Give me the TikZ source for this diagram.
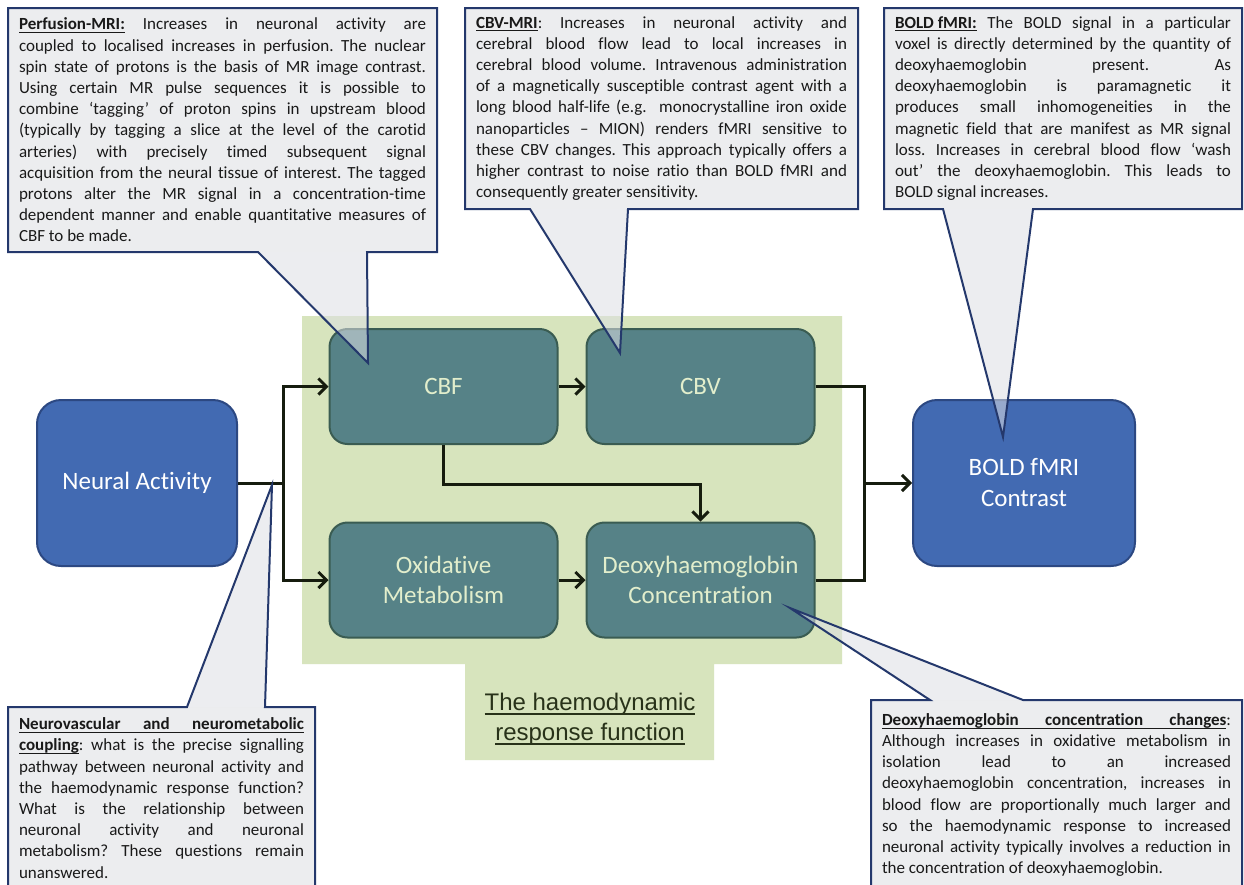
\documentclass[tikz,border=0pt]{standalone}
\usepackage{fontspec}
\setmainfont{Carlito}[Ligatures=CommonOff]
\newfontfamily\arialfont{Liberation Sans}
\usetikzlibrary{arrows.meta}

\frenchspacing
\hyphenpenalty=10000
\exhyphenpenalty=10000
\tolerance=9999

\newcommand\ulword[1]{\leavevmode\setbox0\hbox{#1}\rlap{\rule[-0.19em]{\wd0}{0.055em}}\box0}
\newcommand\ulgap{\leaders\hrule height -0.135em depth 0.19em\hskip 0.23em plus 0.6em minus 0.07em\relax}

\definecolor{nablue}{RGB}{66,106,178}
\definecolor{naline}{RGB}{44,72,130}
\definecolor{hrfteal}{RGB}{86,130,135}
\definecolor{hrfline}{RGB}{58,92,82}
\definecolor{hrfgreen}{RGB}{215,228,189}
\definecolor{hrftext}{RGB}{226,238,204}
\definecolor{hrfdark}{RGB}{40,50,25}
\definecolor{notebg}{RGB}{236,237,239}
\definecolor{notetip}{RGB}{222,224,228}
\definecolor{noteline}{RGB}{36,56,108}
\definecolor{linkcol}{RGB}{22,28,14}

\tikzset{
  bluebox/.style={draw=naline,fill=nablue,line width=2pt,rounded corners=24pt,text=white,
    font=\fontsize{25}{31}\selectfont,align=center,minimum height=166pt},
  tealbox/.style={draw=hrfline,fill=hrfteal,line width=2pt,rounded corners=18pt,text=hrftext,
    font=\fontsize{25}{30}\selectfont,align=center,minimum width=228pt,minimum height=115pt},
  note/.style={anchor=north west,fill=notebg,inner xsep=11pt,inner ysep=0pt,outer sep=0pt,
    align=justify,text=black!90,font=\fontsize{17}{21.2}\selectfont},
  tipfill/.style={fill=notetip,fill opacity=0.55},
  balloon/.style={draw=noteline,line width=2pt},
  link/.style={draw=linkcol,line width=3pt},
  arr/.style={link,-{Straight Barb[length=8pt,width=16pt]}},
}

\begin{document}
\begin{tikzpicture}[x=1pt,y=-1pt]
  \useasboundingbox[fill=white] (0,0) rectangle (1244,884);
  \fill[hrfgreen] (302,316) -- (842,316) -- (842,664) -- (714,664) -- (714,760)
    -- (465,760) -- (465,664) -- (302,664) -- cycle;
  \node[font=\arialfont\fontsize{24}{30}\selectfont,text=hrfdark,align=center] (hrf) at (590,719)
    {\ulword{The haemodynamic}\\\ulword{response function}};

  \node[bluebox,minimum width=200pt] (na) at (137,483) {Neural Activity};
  \node[tealbox] (cbf) at (443.5,386.5) {CBF};
  \node[tealbox] (cbv) at (700.5,386.5) {CBV};
  \node[tealbox] (oxm) at (443.5,580) {Oxidative\\Metabolism};
  \node[tealbox] (dhb) at (700.5,580) {Deoxyhaemoglobin\\Concentration};
  \node[bluebox,minimum width=222pt] (bold) at (1024,483) {BOLD fMRI\\Contrast};

  \coordinate (split) at (283,483);
  \coordinate (merge) at (864,483);
  \draw[link] (na) -- (split);
  \draw[arr] (split) |- (cbf);
  \draw[arr] (split) |- (oxm);
  \draw[arr] (cbf) -- (cbv);
  \draw[arr] (oxm) -- (dhb);
  \draw[arr] (cbf.south) -- ++(0,39) -| (dhb.north);
  \draw[link] (cbv) -| (merge);
  \draw[link] (dhb) -| (merge);
  \draw[arr] (merge) -- (bold);

  \node[note,text width=407pt,minimum height=244pt] (perf) at (8,8) {\textbf{\ulword{Perfusion-MRI:}}
    Increases in neuronal activity are\linebreak coupled to localised increases in perfusion. The
    nuclear\linebreak spin state of protons is the basis of MR image contrast.\linebreak Using certain
    MR pulse sequences it is possible to\linebreak combine ‘tagging’ of proton spins in upstream
    blood\linebreak (typically by tagging a slice at the level of the carotid\linebreak arteries) with
    precisely timed subsequent signal\linebreak acquisition from the neural tissue of interest. The
    tagged\linebreak protons alter the MR signal in a concentration-time\linebreak dependent manner
    and enable quantitative measures of\linebreak CBF to be made.};
  \coordinate (perfL) at (258,252);
  \coordinate (perfR) at (367,252);
  \coordinate (perftip) at (368,363);
  \fill[tipfill] (perfL) -- (perftip) -- (perfR) -- cycle;
  \draw[balloon] (perf.north west) -- (perf.north east) -- (perf.south east) -- (perfR)
    -- (perftip) -- (perfL) -- (perf.south west) -- cycle;

  \node[note,text width=371pt,minimum height=201pt] (cbvm) at (465,8) {\textbf{\ulword{CBV-MRI}}:
    Increases in neuronal activity and\linebreak cerebral blood flow lead to local increases
    in\linebreak cerebral blood volume. Intravenous administration\linebreak of a magnetically
    susceptible contrast agent with a\linebreak long blood half-life (e.g.\ \ monocrystalline iron
    oxide\linebreak nanoparticles – MION) renders fMRI sensitive to\linebreak these CBV changes. This
    approach typically offers a\linebreak higher contrast to noise ratio than BOLD fMRI
    and\linebreak consequently greater sensitivity.};
  \coordinate (cbvmL) at (530,209);
  \coordinate (cbvmR) at (628,209);
  \coordinate (cbvmtip) at (620,353);
  \fill[tipfill] (cbvmL) -- (cbvmtip) -- (cbvmR) -- cycle;
  \draw[balloon] (cbvm.north west) -- (cbvm.north east) -- (cbvm.south east) -- (cbvmR)
    -- (cbvmtip) -- (cbvmL) -- (cbvm.south west) -- cycle;

  \node[note,text width=336pt,minimum height=201pt] (boldm) at (884,8) {\textbf{\ulword{BOLD fMRI:}}
    The BOLD signal in a particular\linebreak voxel is directly determined by the quantity
    of\linebreak deoxyhaemoglobin present. As\linebreak deoxyhaemoglobin is paramagnetic
    it\linebreak produces small inhomogeneities in the\linebreak magnetic field that are manifest
    as MR signal\linebreak loss. Increases in cerebral blood flow ‘wash\linebreak out’ the
    deoxyhaemoglobin. This leads to\linebreak BOLD signal increases.};
  \coordinate (boldmL) at (943,209);
  \coordinate (boldmR) at (1033,209);
  \coordinate (boldmtip) at (1003,437);
  \fill[tipfill] (boldmL) -- (boldmtip) -- (boldmR) -- cycle;
  \draw[balloon] (boldm.north west) -- (boldm.north east) -- (boldm.south east) -- (boldmR)
    -- (boldmtip) -- (boldmL) -- (boldm.south west) -- cycle;

  \node[note,text width=285pt,minimum height=182pt] (coup) at (8,707)
    {\textbf{\ulword{Neurovascular}\ulgap\ulword{and}\ulgap\ulword{neurometabolic}}\linebreak
    \textbf{\ulword{coupling}}: what is the precise signalling\linebreak pathway between neuronal
    activity and\linebreak the haemodynamic response function?\linebreak What is the relationship
    between\linebreak neuronal activity and neuronal\linebreak metabolism? These questions
    remain\linebreak unanswered.};
  \coordinate (coupL) at (187,707);
  \coordinate (coupR) at (265,707);
  \coordinate (couptip) at (272,485);
  \fill[tipfill] (coupL) -- (couptip) -- (coupR) -- cycle;
  \draw[balloon] (coup.north west) -- (coupL) -- (couptip) -- (coupR) -- (coup.north east)
    -- (coup.south east) -- (coup.south west) -- cycle;

  \node[note,text width=349pt,minimum height=190pt] (dhbm) at (871,700)
    {\textbf{\ulword{Deoxyhaemoglobin}\ulgap\ulword{concentration}\ulgap\ulword{changes}}:\linebreak
    Although increases in oxidative metabolism in\linebreak isolation lead to an
    increased\linebreak deoxyhaemoglobin concentration, increases in\linebreak blood flow are
    proportionally much larger and\linebreak so the haemodynamic response to increased\linebreak
    neuronal activity typically involves a reduction in\linebreak the concentration of
    deoxyhaemoglobin.};
  \coordinate (dhbmL) at (930,700);
  \coordinate (dhbmR) at (1023,700);
  \coordinate (dhbmtip) at (790,608);
  \fill[tipfill] (dhbmL) -- (dhbmtip) -- (dhbmR) -- cycle;
  \draw[balloon] (dhbm.north west) -- (dhbmL) -- (dhbmtip) -- (dhbmR) -- (dhbm.north east)
    -- (dhbm.south east) -- (dhbm.south west) -- cycle;
\end{tikzpicture}
\end{document}
